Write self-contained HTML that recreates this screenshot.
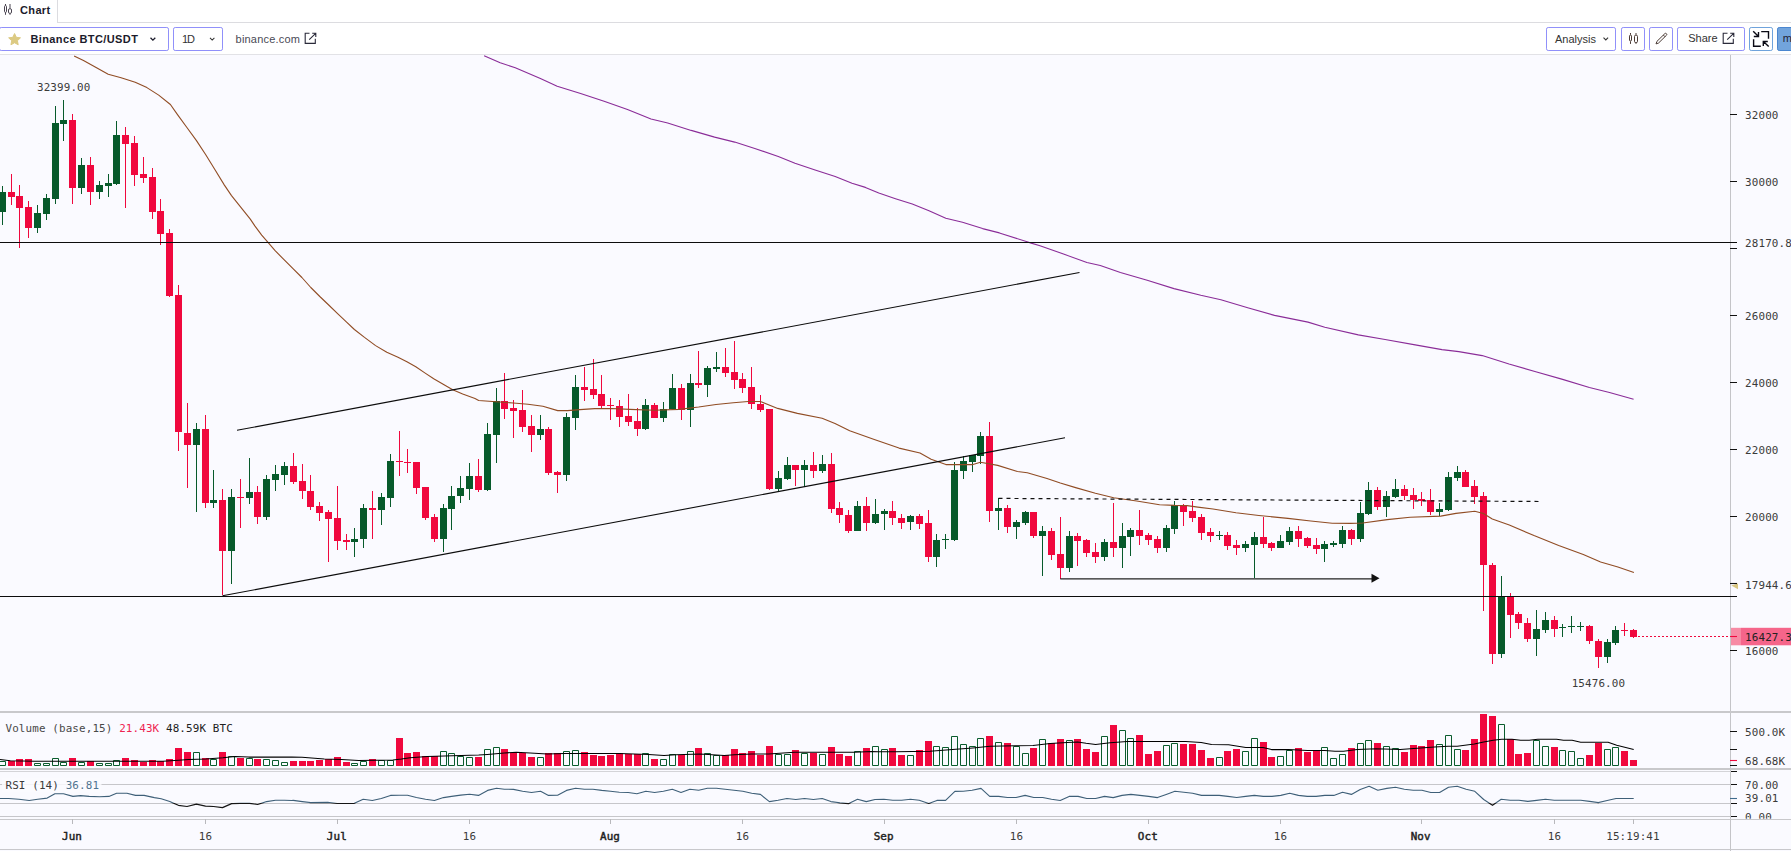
<!DOCTYPE html>
<html><head><meta charset="utf-8"><title>Chart</title>
<style>
html,body{margin:0;padding:0;background:#fff;}
body{width:1791px;height:851px;overflow:hidden;position:relative;font-family:"Liberation Sans",sans-serif;color:#1b1b2b;}
.tabbar{position:absolute;left:0;top:0;width:1791px;height:22px;border-bottom:1px solid #dcdce0;box-sizing:content-box;}
.tab{position:absolute;left:0;top:0;width:57px;height:23px;background:#fff;border-right:1px solid #dcdce0;}
.tab span{position:absolute;left:20.1px;top:3.8px;font-size:11px;font-weight:bold;line-height:13px;letter-spacing:0.32px;}
.toolbar{position:absolute;left:0;top:23px;width:1791px;height:31px;border-bottom:1px solid #e2e2e6;background:#fff;}
.btn{position:absolute;top:27px;height:22px;border:1px solid #9090fa;border-radius:2.2px;box-sizing:content-box;background:#fff;font-size:11px;line-height:21px;white-space:nowrap;}
.btn span{position:absolute;top:1px;}
svg{position:absolute;left:0;top:0;}
#chart text{font-family:"DejaVu Sans Mono","Liberation Mono",monospace;letter-spacing:0.13px;}
</style></head><body>
<div class="tabbar"></div>
<div class="tab">
<svg width="20" height="22" viewBox="0 0 20 22"><g fill="none" stroke="#4a4450" stroke-width="1"><path d="M5.500 4v1.600M5.500 12.400v2.400M10 4v4.700M10 13.400v1.400"/><rect x="4.500" y="5.600" width="2" height="6.800" rx="1"/><rect x="8.500" y="8.700" width="3" height="4.700" rx="1.300"/></g></svg>
<span>Chart</span></div>
<div class="toolbar"></div>
<div class="btn" style="left:-1px;width:168px;"><span style="left:30.4px;top:0.9px;font-weight:bold;letter-spacing:0.4px;">Binance BTC/USDT</span></div>
<div class="btn" style="left:173px;width:48px;"><span style="left:7.9px;top:0.9px;color:#333;letter-spacing:-1.1px;">1D</span></div>
<div style="position:absolute;left:235.6px;top:29.1px;letter-spacing:0.19px;font-size:11px;line-height:21px;color:#4a4a55;">binance.com</div>
<div class="btn" style="left:1546px;width:68px;"><span style="left:8px;color:#333;">Analysis</span></div>
<div class="btn" style="left:1621px;width:22px;"></div>
<div class="btn" style="left:1649px;width:22px;"></div>
<div class="btn" style="left:1677px;width:66px;"><span style="left:10.2px;top:0.15px;color:#333;">Share</span></div>
<div class="btn" style="left:1749px;width:22px;border-color:#6fa3dc;"></div>
<div class="btn" style="left:1777px;width:20px;border-color:#4a86d0;background:#72a4dc;"><span style="left:4.8px;top:0;color:#223;">m</span></div>
<svg id="icons" width="1791" height="55" viewBox="0 0 1791 55">
<path d="M14.57 33.56L16.33 37.33L20.47 37.84L17.42 40.69L18.21 44.78L14.57 42.76L10.93 44.78L11.72 40.69L8.67 37.84L12.81 37.33z" fill="#dcca82" stroke="#dcca82" stroke-width="1" stroke-linejoin="round"/>
<path d="M150.500 37.700l2.400 2.400 2.400-2.400" fill="none" stroke="#1b1b2b" stroke-width="1.300"/>
<path d="M210 37.8l2.2 2.2 2.2-2.2" fill="none" stroke="#333" stroke-width="1.05"/>
<path d="M1603.5 37.600l2.300 2.300 2.300-2.300" fill="none" stroke="#333" stroke-width="1.050"/>
<g fill="none" stroke="#2a2a3a" stroke-width="1.1"><path d="M309.500 33.300H305.200V43.400H315.300V38.800M309.200 39.700L315.700 33.300M312.200 33.300H315.800V36.900"/>
<path d="M1727.500 33.300H1723.200V43.400H1733.300V38.800M1727.200 39.700L1733.700 33.300M1730.200 33.300H1733.800V36.900"/></g>
<g fill="none" stroke="#4a3a34" stroke-width="1"><path d="M1630.500 33v1.700M1630.500 41.400v2.500M1636 33v1.700M1636 43.100v0.800"/><rect x="1629.500" y="35.100" width="2" height="5.900" rx="1"/><rect x="1634.500" y="35.100" width="3" height="7.600" rx="1.400"/></g>
<g fill="none" stroke="#4a3a34" stroke-width="1" stroke-linejoin="round"><path d="M1656 43.900L1658.520 43.060L1666.400 35.330A1.150 1.150 0 0 0 1664.800 33.670L1656.920 41.400zM1664.960 36.720L1663.360 35.060"/></g>
<g fill="none" stroke="#0a0a14" stroke-width="1.400"><path d="M1753.200 31.300L1758.300 36.300M1758.500 32V36.500H1753.800M1761.200 31.600H1768.500V38.800M1753.600 39.200V46.300H1760.800M1768.700 46.600L1763.400 41.600M1763.300 46V41.500H1767.800"/></g>
</svg>
<svg id="chart" width="1791" height="851" viewBox="0 0 1791 851" style="top:0">
<rect x="0" y="55" width="1791" height="796" fill="#fafaff"/>
<path d="M1730.5 55V851" stroke="#c4c4c8" stroke-width="1"/>
<path d="M0 712H1791M0 769H1791" stroke="#c8c8cb" stroke-width="2"/>
<path d="M0 819.5H1791" stroke="#c8c8cb" stroke-width="1"/>
<path d="M0 849.5H1791" stroke="#c8c8cc" stroke-width="1"/>
<path d="M1730 114.5h7M1730 181.5h7M1730 248.5h7M1730 315.5h7M1730 382.5h7M1730 449.5h7M1730 516.5h7M1730 583.5h7M1730 650.5h7M1730 731.5h7M1730 749.5h7M1730 765.5h7M1730 771.5h7M1730 784.5h7M1730 803.5h7M1730 816.5h7" stroke="#111" stroke-width="1.1"/>
<path d="M1730 760.5h7" stroke="#ee0a3e" stroke-width="1.1"/>
<path d="M1730 798.5h7" stroke="#3e6a8c" stroke-width="1.1"/>
<path d="M72.5 819v5M205.5 819v5M337.5 819v5M469.5 819v5M610.5 819v5M742.5 819v5M884.5 819v5M1016.5 819v5M1148.5 819v5M1280.5 819v5M1421.5 819v5M1554.5 819v5M1633.5 819v5" stroke="#b8b8bc" stroke-width="1"/>
<path d="M0 771.5H1731" stroke="#d4d4d8" stroke-width="1"/>
<path d="M0 784.5H1731M0 803.5H1731M0 816.5H1731" stroke="#c6c6ca" stroke-width="1"/>
<rect x="2" y="778" width="99.5" height="14" fill="#fafaff" fill-opacity="0.85"/>
<clipPath id="ra"><rect x="0" y="770" width="1731" height="33"/></clipPath><clipPath id="rb"><rect x="0" y="803" width="1731" height="16"/></clipPath>
<polyline points="0,798.5 8.6,798.5 18.9,799.3 29.2,800.5 37.7,799.3 47.2,798.1 54.9,793.7 63.5,793.7 72.9,796.4 80.6,795.6 89.2,796.4 99.5,796.8 108.9,796.4 116.6,793.3 126.9,793.3 135.5,795.4 144.1,795.4 154.4,797.6 161.2,798.8 169.8,801.6 178.4,805.3 187,806.5 196.4,804.1 205.5,806.2 213.6,806.5 222.5,807.6 231.6,803.6 240.1,803.3 249.6,803.3 257.6,804.5 266.6,801.6 275.5,800.2 284.4,800.2 291.6,800.5 293.3,800.4 302.3,801.6 310.6,802.6 327.7,802.4 337.2,803.5 346.3,803.5 354.3,803.3 363.2,799.2 372.3,800.5 381.3,798.5 390.5,795.4 399.3,795.2 407.5,795.2 416.4,797.5 425.5,799.3 434.4,800.5 443.5,797.6 451.6,796.4 460.7,795.1 469.6,794.2 478.5,795.4 487.6,790.4 496.5,788.2 504.4,789.2 513.5,789.4 522.6,791.3 531.5,792.5 540.6,791.3 548.5,795.4 557.6,795.2 566.5,790.4 575.6,788.2 584.5,789.2 592.9,789.2 601.8,790.4 610.5,791.3 619.3,792.3 628.2,792.5 636.9,793.7 645.9,791.3 654.6,792.5 663.4,791.3 672.3,789.2 681,792.5 689.9,789.2 698.7,790.2 707.4,788.2 716.4,788.2 725.1,789.2 734,790.2 742.8,791.3 751.7,793.3 760.4,794.4 769.4,801.6 778.1,800.2 786.9,798.5 795.8,799.5 804.5,798.5 813.4,799.5 822.2,798.5 830.9,801.6 839.9,802.8 848.6,803.6 857.5,799.3 866.3,801.6 875,799.5 883.9,799.3 892.8,800.2 901.6,800.2 910.5,799.2 919.2,800.2 928.8,803.5 936.9,800.4 945.6,800.4 954.9,791.4 963.3,791.3 972.1,790.2 981,788.4 989.7,796.4 998.6,796.4 1007.4,797.5 1016.1,797.5 1025.1,795.4 1033.8,797.5 1042.7,797.5 1051.5,799.3 1060.2,800.5 1069.1,796.4 1078.1,796.4 1086.8,798.5 1095.6,798.5 1104.5,796.4 1113.2,797.6 1122.1,795.4 1130.9,794.4 1139.8,795.4 1148.6,796.4 1157.5,797.6 1166.2,794.4 1174.9,791.3 1183.8,792.3 1192.6,793.3 1201.5,795.4 1210.3,795.4 1219.2,795.4 1227.9,796.4 1236.7,797.5 1245.6,796.4 1254.3,795.4 1263.3,796.4 1272,796.4 1280.8,795.4 1289.7,793.3 1298.4,795.4 1307.3,796.4 1316.1,796.4 1324.8,795.4 1333.8,795.4 1342.5,792.3 1351.4,794.4 1360.2,789.4 1369.1,786.3 1377.8,790.2 1386.8,788.4 1395.5,787.3 1404.3,789.2 1413.2,790.2 1421.9,790.2 1430.8,792.5 1439.6,792.5 1448.5,787.3 1457.2,786.3 1466.1,789.2 1474.8,791.3 1483.7,799.5 1492.5,805.3 1501.2,799.2 1510.2,800.2 1518.9,800.2 1527.8,801.4 1536.6,800.4 1545.5,799.2 1554.2,800.2 1563.2,800.2 1571.9,800.2 1580.7,800.2 1589.6,801.4 1598.3,802.6 1607.2,800.5 1616,798.5 1624.9,798.5 1633.7,798.5" fill="none" stroke="#3e5f78" stroke-width="1.1" stroke-linejoin="round" clip-path="url(#ra)"/>
<polyline points="0,798.5 8.6,798.5 18.9,799.3 29.2,800.5 37.7,799.3 47.2,798.1 54.9,793.7 63.5,793.7 72.9,796.4 80.6,795.6 89.2,796.4 99.5,796.8 108.9,796.4 116.6,793.3 126.9,793.3 135.5,795.4 144.1,795.4 154.4,797.6 161.2,798.8 169.8,801.6 178.4,805.3 187,806.5 196.4,804.1 205.5,806.2 213.6,806.5 222.5,807.6 231.6,803.6 240.1,803.3 249.6,803.3 257.6,804.5 266.6,801.6 275.5,800.2 284.4,800.2 291.6,800.5 293.3,800.4 302.3,801.6 310.6,802.6 327.7,802.4 337.2,803.5 346.3,803.5 354.3,803.3 363.2,799.2 372.3,800.5 381.3,798.5 390.5,795.4 399.3,795.2 407.5,795.2 416.4,797.5 425.5,799.3 434.4,800.5 443.5,797.6 451.6,796.4 460.7,795.1 469.6,794.2 478.5,795.4 487.6,790.4 496.5,788.2 504.4,789.2 513.5,789.4 522.6,791.3 531.5,792.5 540.6,791.3 548.5,795.4 557.6,795.2 566.5,790.4 575.6,788.2 584.5,789.2 592.9,789.2 601.8,790.4 610.5,791.3 619.3,792.3 628.2,792.5 636.9,793.7 645.9,791.3 654.6,792.5 663.4,791.3 672.3,789.2 681,792.5 689.9,789.2 698.7,790.2 707.4,788.2 716.4,788.2 725.1,789.2 734,790.2 742.8,791.3 751.7,793.3 760.4,794.4 769.4,801.6 778.1,800.2 786.9,798.5 795.8,799.5 804.5,798.5 813.4,799.5 822.2,798.5 830.9,801.6 839.9,802.8 848.6,803.6 857.5,799.3 866.3,801.6 875,799.5 883.9,799.3 892.8,800.2 901.6,800.2 910.5,799.2 919.2,800.2 928.8,803.5 936.9,800.4 945.6,800.4 954.9,791.4 963.3,791.3 972.1,790.2 981,788.4 989.7,796.4 998.6,796.4 1007.4,797.5 1016.1,797.5 1025.1,795.4 1033.8,797.5 1042.7,797.5 1051.5,799.3 1060.2,800.5 1069.1,796.4 1078.1,796.4 1086.8,798.5 1095.6,798.5 1104.5,796.4 1113.2,797.6 1122.1,795.4 1130.9,794.4 1139.8,795.4 1148.6,796.4 1157.5,797.6 1166.2,794.4 1174.9,791.3 1183.8,792.3 1192.6,793.3 1201.5,795.4 1210.3,795.4 1219.2,795.4 1227.9,796.4 1236.7,797.5 1245.6,796.4 1254.3,795.4 1263.3,796.4 1272,796.4 1280.8,795.4 1289.7,793.3 1298.4,795.4 1307.3,796.4 1316.1,796.4 1324.8,795.4 1333.8,795.4 1342.5,792.3 1351.4,794.4 1360.2,789.4 1369.1,786.3 1377.8,790.2 1386.8,788.4 1395.5,787.3 1404.3,789.2 1413.2,790.2 1421.9,790.2 1430.8,792.5 1439.6,792.5 1448.5,787.3 1457.2,786.3 1466.1,789.2 1474.8,791.3 1483.7,799.5 1492.5,805.3 1501.2,799.2 1510.2,800.2 1518.9,800.2 1527.8,801.4 1536.6,800.4 1545.5,799.2 1554.2,800.2 1563.2,800.2 1571.9,800.2 1580.7,800.2 1589.6,801.4 1598.3,802.6 1607.2,800.5 1616,798.5 1624.9,798.5 1633.7,798.5" fill="none" stroke="#151515" stroke-width="1.2" stroke-linejoin="round" clip-path="url(#rb)"/>
<path d="M8 761h7V766h-7zM16 759h7V766h-7zM25 759h7V766h-7zM69 758h7V766h-7zM87 761h7V766h-7zM122 758h7V766h-7zM131 760h7V766h-7zM140 762h7V766h-7zM149 760h7V766h-7zM157 761h7V766h-7zM166 759h7V766h-7zM175 748h7V766h-7zM184 752h7V766h-7zM202 758h7V766h-7zM219 752h7V766h-7zM237 758h7V766h-7zM254 759h7V766h-7zM290 761h7V766h-7zM299 761h7V766h-7zM307 761h7V766h-7zM316 760h7V766h-7zM325 759h7V766h-7zM334 757h7V766h-7zM343 762h7V766h-7zM369 759h7V766h-7zM396 738h7V766h-7zM404 753h7V766h-7zM413 752h7V766h-7zM422 756h7V766h-7zM431 756h7V766h-7zM475 757h7V766h-7zM501 749h7V766h-7zM510 753h7V766h-7zM519 753h7V766h-7zM528 757h7V766h-7zM545 753h7V766h-7zM554 753h7V766h-7zM581 752h7V766h-7zM590 755h7V766h-7zM598 756h7V766h-7zM607 755h7V766h-7zM616 753h7V766h-7zM625 754h7V766h-7zM634 754h7V766h-7zM651 759h7V766h-7zM678 755h7V766h-7zM695 748h7V766h-7zM722 755h7V766h-7zM731 749h7V766h-7zM739 753h7V766h-7zM748 751h7V766h-7zM757 755h7V766h-7zM766 746h7V766h-7zM792 750h7V766h-7zM810 753h7V766h-7zM828 747h7V766h-7zM836 754h7V766h-7zM845 756h7V766h-7zM863 748h7V766h-7zM889 748h7V766h-7zM898 755h7V766h-7zM916 750h7V766h-7zM925 741h7V766h-7zM986 736h7V766h-7zM1004 743h7V766h-7zM1030 748h7V766h-7zM1048 743h7V766h-7zM1057 739h7V766h-7zM1074 739h7V766h-7zM1083 749h7V766h-7zM1092 752h7V766h-7zM1110 725h7V766h-7zM1136 735h7V766h-7zM1145 754h7V766h-7zM1154 751h7V766h-7zM1180 744h7V766h-7zM1189 744h7V766h-7zM1198 750h7V766h-7zM1207 758h7V766h-7zM1224 751h7V766h-7zM1233 749h7V766h-7zM1260 742h7V766h-7zM1268 757h7V766h-7zM1295 748h7V766h-7zM1304 752h7V766h-7zM1313 750h7V766h-7zM1348 748h7V766h-7zM1374 743h7V766h-7zM1401 752h7V766h-7zM1410 745h7V766h-7zM1418 746h7V766h-7zM1427 740h7V766h-7zM1462 750h7V766h-7zM1471 739h7V766h-7zM1480 714h7V766h-7zM1489 716h7V766h-7zM1507 739h7V766h-7zM1515 754h7V766h-7zM1524 753h7V766h-7zM1551 747h7V766h-7zM1586 755h7V766h-7zM1595 743h7V766h-7zM1621 751h7V766h-7zM1630 760h7V766h-7z" fill="#f0083e"/>
<path d="M-0.5 761.5h6V765.5h-6zM34.5 763.5h6V765.5h-6zM43.5 763.5h6V765.5h-6zM52.5 758.5h6V765.5h-6zM60.5 762.5h6V765.5h-6zM78.5 762.5h6V765.5h-6zM96.5 763.5h6V765.5h-6zM105.5 763.5h6V765.5h-6zM113.5 760.5h6V765.5h-6zM193.5 752.5h6V765.5h-6zM210.5 759.5h6V765.5h-6zM228.5 756.5h6V765.5h-6zM246.5 758.5h6V765.5h-6zM263.5 759.5h6V765.5h-6zM272.5 760.5h6V765.5h-6zM281.5 762.5h6V765.5h-6zM351.5 763.5h6V765.5h-6zM360.5 761.5h6V765.5h-6zM378.5 760.5h6V765.5h-6zM387.5 760.5h6V765.5h-6zM440.5 751.5h6V765.5h-6zM448.5 753.5h6V765.5h-6zM457.5 756.5h6V765.5h-6zM466.5 757.5h6V765.5h-6zM484.5 749.5h6V765.5h-6zM493.5 747.5h6V765.5h-6zM537.5 757.5h6V765.5h-6zM563.5 751.5h6V765.5h-6zM572.5 750.5h6V765.5h-6zM642.5 753.5h6V765.5h-6zM660.5 759.5h6V765.5h-6zM669.5 754.5h6V765.5h-6zM687.5 751.5h6V765.5h-6zM704.5 753.5h6V765.5h-6zM713.5 755.5h6V765.5h-6zM775.5 754.5h6V765.5h-6zM784.5 754.5h6V765.5h-6zM801.5 753.5h6V765.5h-6zM819.5 754.5h6V765.5h-6zM854.5 751.5h6V765.5h-6zM872.5 746.5h6V765.5h-6zM881.5 749.5h6V765.5h-6zM907.5 755.5h6V765.5h-6zM933.5 746.5h6V765.5h-6zM942.5 747.5h6V765.5h-6zM951.5 736.5h6V765.5h-6zM960.5 744.5h6V765.5h-6zM969.5 746.5h6V765.5h-6zM977.5 738.5h6V765.5h-6zM995.5 742.5h6V765.5h-6zM1013.5 746.5h6V765.5h-6zM1022.5 753.5h6V765.5h-6zM1039.5 739.5h6V765.5h-6zM1066.5 740.5h6V765.5h-6zM1101.5 736.5h6V765.5h-6zM1119.5 730.5h6V765.5h-6zM1127.5 738.5h6V765.5h-6zM1163.5 745.5h6V765.5h-6zM1171.5 743.5h6V765.5h-6zM1216.5 757.5h6V765.5h-6zM1242.5 751.5h6V765.5h-6zM1251.5 738.5h6V765.5h-6zM1277.5 756.5h6V765.5h-6zM1286.5 750.5h6V765.5h-6zM1321.5 747.5h6V765.5h-6zM1330.5 758.5h6V765.5h-6zM1339.5 754.5h6V765.5h-6zM1357.5 743.5h6V765.5h-6zM1365.5 740.5h6V765.5h-6zM1383.5 746.5h6V765.5h-6zM1392.5 748.5h6V765.5h-6zM1436.5 744.5h6V765.5h-6zM1445.5 735.5h6V765.5h-6zM1454.5 749.5h6V765.5h-6zM1498.5 724.5h6V765.5h-6zM1533.5 740.5h6V765.5h-6zM1542.5 746.5h6V765.5h-6zM1559.5 750.5h6V765.5h-6zM1568.5 751.5h6V765.5h-6zM1577.5 758.5h6V765.5h-6zM1604.5 749.5h6V765.5h-6zM1612.5 747.5h6V765.5h-6z" fill="none" stroke="#0a5c2d" stroke-width="1"/>
<polyline points="0,759.5 10.3,760.7 34.3,761.3 68.6,761.3 102.9,761.3 137.2,761.3 163,761.3 178.4,760.2 188.7,759.4 205.8,759 223,757.8 235,756.5 248.7,757.1 274.4,757.1 291.6,757.1 302,757.3 324.3,759 341.5,759.5 358.6,760.4 375.8,760.2 392.9,759.9 401.5,759 410.1,757.8 427.2,756.5 444.4,756.1 461.5,755.6 478.7,755.1 487.3,754.4 504.4,753 516.4,752.2 530.1,753 547.3,753.9 564.4,753.4 581.6,753.4 590.3,753.5 619.5,753.5 648.6,754.4 664,755.6 676.1,754.7 700.1,753.9 724.1,755.4 734.4,754.7 751.5,753.9 768.7,753.9 794.4,752.2 820.1,752.2 854.4,752.2 871.6,751.5 878.6,751.7 895.7,751.7 930,751.3 955.8,749.3 972.9,747.9 990.1,746.2 1015.8,745.7 1033,745.5 1050.1,743.6 1067.3,742.4 1077.5,741.9 1086.1,743.3 1095.6,744.5 1110.1,742.7 1127.3,741.5 1144.4,741.4 1161.6,741.5 1168.6,741.5 1185.7,741.4 1201.2,742.4 1211.5,744.5 1228.6,744.8 1245.8,747.4 1262.9,747.4 1271.5,749.6 1288.6,749.6 1307.5,750.5 1324.7,750.5 1335,751.3 1343.5,751.3 1357.3,749.6 1376.1,748.7 1400.1,749.6 1417.3,748.2 1434.4,747 1448.2,746.2 1457.2,746.2 1474.3,744.1 1483.7,741.9 1493.2,740.2 1501.7,739.3 1512,739.3 1520.6,740.2 1529.2,740.2 1537.8,739.3 1556.6,739.3 1563.5,740.2 1572.1,740.3 1580.7,742.2 1608.1,742.2 1616.7,745.3 1633.7,749.4" fill="none" stroke="#000" stroke-width="1.05" stroke-linejoin="round" />
<path d="M11.5 174V205M19.5 185V248M28.5 201V238M72.5 114V204M90.5 157V205M125.5 127V208M134.5 136V186M143.5 157V183M152.5 168V219M160.5 199V245M169.5 229V297M178.5 285V451M187.5 403V488M205.5 415V508M222.5 489V595M240.5 479V528M257.5 486V524M293.5 453V484M302.5 464V499M310.5 475V510M319.5 502V521M328.5 510V562M337.5 486V550M346.5 534V550M372.5 491V539M399.5 431V476M407.5 449V473M416.5 462V494M425.5 487V520M434.5 514V542M478.5 459V492M504.5 373V419M513.5 400V438M522.5 390V432M531.5 415V452M548.5 427V475M557.5 471V493M584.5 367V401M593.5 359V399M601.5 375V408M610.5 398V420M619.5 400V427M628.5 394V426M637.5 408V436M654.5 403V418M681.5 384V420M698.5 351V388M725.5 348V377M734.5 341V389M742.5 373V393M751.5 367V409M760.5 395V412M769.5 409V490M795.5 465V486M813.5 452V478M831.5 453V513M839.5 502V523M848.5 510V533M866.5 497V531M892.5 501V525M901.5 514V529M919.5 514V529M928.5 510V562M989.5 422V522M1007.5 505V533M1033.5 512V538M1051.5 528V560M1060.5 517V579M1077.5 533V566M1086.5 539V557M1095.5 543V563M1113.5 503V557M1139.5 510V545M1148.5 533V545M1157.5 536V553M1183.5 504V526M1192.5 501V522M1201.5 514V540M1210.5 528V542M1227.5 532V550M1236.5 540V555M1263.5 517V548M1271.5 542V551M1298.5 526V547M1307.5 537V548M1316.5 538V554M1351.5 529V545M1377.5 487V510M1404.5 485V500M1413.5 488V509M1421.5 492V506M1430.5 489V515M1465.5 470V487M1474.5 480V504M1483.5 492V611M1492.5 563V664M1510.5 593V638M1518.5 612V629M1527.5 618V642M1554.5 616V637M1589.5 625V644M1598.5 639V668M1624.5 623V636M1633.5 629V638" stroke="#f0083e" stroke-width="1" fill="none"/>
<path d="M8 192h7V197h-7zM16 196h7V208h-7zM25 207h7V228h-7zM69 120h7V188h-7zM87 165h7V192h-7zM122 135h7V144h-7zM131 143h7V175h-7zM140 174h7V178h-7zM149 177h7V212h-7zM157 211h7V234h-7zM166 233h7V296h-7zM175 295h7V432h-7zM184 433h7V445h-7zM202 429h7V503h-7zM219 500h7V551h-7zM237 497h7V498h-7zM254 492h7V517h-7zM290 466h7V482h-7zM299 481h7V491h-7zM307 491h7V507h-7zM316 506h7V513h-7zM325 512h7V519h-7zM334 518h7V541h-7zM343 540h7V542h-7zM369 508h7V510h-7zM396 461h7V462h-7zM404 462h7V463h-7zM413 462h7V488h-7zM422 487h7V518h-7zM431 517h7V539h-7zM475 476h7V490h-7zM501 401h7V409h-7zM510 408h7V411h-7zM519 410h7V427h-7zM528 426h7V435h-7zM545 429h7V473h-7zM554 472h7V475h-7zM581 387h7V390h-7zM590 389h7V395h-7zM598 394h7V406h-7zM607 405h7V406h-7zM616 406h7V417h-7zM625 416h7V422h-7zM634 421h7V429h-7zM651 405h7V418h-7zM678 388h7V410h-7zM695 383h7V385h-7zM722 367h7V373h-7zM731 372h7V380h-7zM739 379h7V388h-7zM748 387h7V404h-7zM757 404h7V410h-7zM766 409h7V489h-7zM792 465h7V470h-7zM810 465h7V471h-7zM828 464h7V509h-7zM836 508h7V515h-7zM845 515h7V531h-7zM863 506h7V523h-7zM889 511h7V518h-7zM898 518h7V523h-7zM916 516h7V524h-7zM925 523h7V557h-7zM986 436h7V511h-7zM1004 508h7V527h-7zM1030 512h7V536h-7zM1048 531h7V555h-7zM1057 554h7V568h-7zM1074 536h7V541h-7zM1083 540h7V553h-7zM1092 552h7V557h-7zM1110 542h7V548h-7zM1136 530h7V536h-7zM1145 535h7V540h-7zM1154 539h7V548h-7zM1180 505h7V512h-7zM1189 511h7V518h-7zM1198 517h7V533h-7zM1207 532h7V536h-7zM1224 535h7V546h-7zM1233 545h7V548h-7zM1260 537h7V544h-7zM1268 543h7V548h-7zM1295 531h7V539h-7zM1304 538h7V546h-7zM1313 545h7V549h-7zM1348 530h7V539h-7zM1374 490h7V507h-7zM1401 489h7V496h-7zM1410 495h7V500h-7zM1418 499h7V501h-7zM1427 500h7V512h-7zM1462 472h7V487h-7zM1471 486h7V497h-7zM1480 496h7V565h-7zM1489 565h7V654h-7zM1507 597h7V615h-7zM1515 614h7V623h-7zM1524 623h7V639h-7zM1551 620h7V629h-7zM1586 626h7V641h-7zM1595 641h7V657h-7zM1621 630h7V631h-7zM1630 630h7V637h-7z" fill="#f0083e"/>
<path d="M2.5 186V225M37.5 205V233M46.5 194V220M55.5 106V204M63.5 100V141M81.5 158V194M99.5 181V199M108.5 174V197M116.5 121V185M196.5 423V512M213.5 470V508M231.5 489V584M249.5 458V504M266.5 475V520M275.5 465V491M284.5 462V485M354.5 528V557M363.5 504V548M381.5 493V525M390.5 454V507M443.5 504V552M451.5 486V530M460.5 476V503M469.5 463V500M487.5 423V491M496.5 388V463M540.5 415V440M566.5 413V481M575.5 375V430M645.5 399V430M663.5 402V422M672.5 374V410M690.5 374V427M707.5 366V397M716.5 352V372M778.5 471V491M787.5 457V480M804.5 460V487M822.5 455V473M857.5 501V531M875.5 499V524M884.5 509V530M910.5 515V530M936.5 534V567M945.5 534V549M954.5 462V541M963.5 456V479M972.5 455V472M980.5 432V464M998.5 498V530M1016.5 520V539M1025.5 511V525M1042.5 526V576M1069.5 531V572M1104.5 539V561M1122.5 523V568M1130.5 528V556M1166.5 525V552M1174.5 501V534M1219.5 531V540M1245.5 541V552M1254.5 532V578M1280.5 535V548M1289.5 527V545M1324.5 541V562M1333.5 541V547M1342.5 526V548M1360.5 502V542M1368.5 482V515M1386.5 491V517M1395.5 479V498M1439.5 503V516M1448.5 472V511M1457.5 466V481M1501.5 576V658M1536.5 610V656M1545.5 612V633M1562.5 624V637M1571.5 616V633M1580.5 622V631M1607.5 639V663M1615.5 626V645" stroke="#075a2b" stroke-width="1" fill="none"/>
<path d="M-1 192h7V212h-7zM34 213h7V228h-7zM43 198h7V214h-7zM52 123h7V199h-7zM60 120h7V124h-7zM78 165h7V188h-7zM96 185h7V192h-7zM105 183h7V186h-7zM113 135h7V184h-7zM193 429h7V445h-7zM210 500h7V503h-7zM228 497h7V551h-7zM246 492h7V498h-7zM263 479h7V517h-7zM272 474h7V480h-7zM281 466h7V475h-7zM351 539h7V542h-7zM360 508h7V539h-7zM378 497h7V510h-7zM387 461h7V498h-7zM440 508h7V539h-7zM448 496h7V509h-7zM457 488h7V496h-7zM466 476h7V489h-7zM484 434h7V490h-7zM493 401h7V435h-7zM537 429h7V435h-7zM563 417h7V475h-7zM572 387h7V418h-7zM642 405h7V429h-7zM660 409h7V418h-7zM669 388h7V409h-7zM687 383h7V410h-7zM704 368h7V385h-7zM713 367h7V369h-7zM775 478h7V489h-7zM784 465h7V479h-7zM801 465h7V470h-7zM819 464h7V471h-7zM854 506h7V531h-7zM872 514h7V523h-7zM881 511h7V514h-7zM907 516h7V522h-7zM933 540h7V557h-7zM942 539h7V540h-7zM951 470h7V540h-7zM960 461h7V471h-7zM969 455h7V462h-7zM977 436h7V456h-7zM995 508h7V511h-7zM1013 522h7V527h-7zM1022 512h7V523h-7zM1039 531h7V536h-7zM1066 536h7V568h-7zM1101 542h7V557h-7zM1119 536h7V548h-7zM1127 530h7V537h-7zM1163 528h7V548h-7zM1171 505h7V529h-7zM1216 535h7V536h-7zM1242 544h7V548h-7zM1251 537h7V545h-7zM1277 541h7V548h-7zM1286 531h7V542h-7zM1321 544h7V549h-7zM1330 543h7V545h-7zM1339 530h7V544h-7zM1357 513h7V539h-7zM1365 490h7V514h-7zM1383 496h7V507h-7zM1392 489h7V497h-7zM1436 509h7V512h-7zM1445 477h7V510h-7zM1454 472h7V478h-7zM1498 597h7V654h-7zM1533 629h7V639h-7zM1542 620h7V630h-7zM1559 627h7V628h-7zM1568 626h7V627h-7zM1577 626h7V627h-7zM1604 642h7V657h-7zM1612 630h7V643h-7z" fill="#075a2b"/>
<polyline points="484.1,55.7 500.2,62.7 515.3,67.8 540.4,78.5 557.2,86.2 580.6,93.6 604.1,101.3 627.5,109.6 651,119 667.7,123 691.2,130.4 714.6,137.1 734.7,142.1 754.8,148.5 778.3,156.5 795,163.2 815.1,169.9 835.2,176.6 852,183.3 865.4,187.4 878.8,193 895.5,198.7 912.3,204.1 929,210.8 945.8,218.2 962.5,222.2 982.6,228.6 999.4,232.9 1029.5,242.6 1040,245.7 1063.5,254.1 1086.9,262.5 1100.3,265.5 1120.4,272.5 1147.2,280.3 1174,288.6 1200.8,295.3 1220.9,299.7 1247.7,307.7 1274.5,315.4 1308,322.1 1324.8,327.2 1358.3,334.9 1385.1,339.5 1415.2,344.9 1442,349.6 1458.8,351.6 1482.2,355.6 1509,364 1535.8,371.7 1562.6,379.4 1589.4,387.5 1609.5,392.5 1633.6,399.2" fill="none" stroke="#8a2c98" stroke-width="1.1" stroke-linejoin="round" />
<polyline points="74.1,55.9 83.5,60.6 95.2,67.1 108.2,74.2 121.1,77.7 135.2,82.2 146.9,87.6 158.7,95.1 170.4,104.5 177.5,114.6 186.9,127.5 196.3,140.4 205.6,154.5 215,169.8 224.4,185.1 231.5,195.6 240.9,207.4 250.3,219.1 255,226.1 261.7,235.1 268,242.4 275.1,250.7 284,259.6 293,268.6 301.9,277.5 310.8,287.5 319.8,296.5 328.7,305 337.6,313.7 346.6,322.2 354.4,329.5 364.5,337.4 375.6,345.6 386.8,352.3 398,357.2 406.9,361.7 415.8,366.8 424.8,372.9 433.7,378.7 444.9,385.2 452.7,389.8 462.7,394.1 475,398.6 478.7,400.5 496,401.7 513.3,403 528,404.2 542.9,406.2 557.7,410.6 567.5,410.6 579.9,409.6 594.7,408.6 612,408.5 629.7,409.4 654.3,410.2 679,409.4 698.7,407 716,404.5 733.3,402.8 748.1,401.5 760.4,401.5 777.7,408.4 797.4,413.4 822.1,418.3 835,423.5 849.7,430.8 874.3,439.5 899,448.1 920,453 931.1,459.2 945.9,464.6 973,464.6 980.4,462.2 997.7,465.4 1017.4,471.5 1027.3,472.8 1047,478.5 1060.3,483 1075.6,487.6 1095.4,493.2 1113.7,497.8 1136.7,501 1159.6,504.8 1174.9,505.4 1187.1,505.6 1197.8,507.1 1213,509 1236,512.8 1258.9,515.5 1287.9,518.4 1310.8,521 1332.2,523.3 1350.5,523.4 1362.8,523 1387.2,519.6 1410.1,517.3 1440.7,516.1 1456,513.4 1474.8,511.3 1483.4,513.5 1492.3,519 1509.3,525 1534,535.6 1558.7,545.5 1583.3,554.6 1600.6,562 1617.9,567 1633.9,572.4" fill="none" stroke="#904c24" stroke-width="1.1" stroke-linejoin="round" />
<path d="M0 242.5H1737M0 596.5H1737" stroke="#0c0c0c" stroke-width="1"/>
<path d="M237 430.3L1079.5 272.5M222.5 595.8L1065 437.8" stroke="#0c0c0c" stroke-width="1.1"/>
<path d="M998.5 498.4L1539 501.5" stroke="#111" stroke-width="1.2" stroke-dasharray="4 4" fill="none"/>
<path d="M1060.3 578.9H1373" stroke="#222" stroke-width="1.25"/><path d="M1371.5 573.8L1379.5 578.3L1371.5 582.8z" fill="#111"/>
<path d="M1638 636.5H1737" stroke="#ee0a3e" stroke-width="1.2" stroke-dasharray="2 2"/>
<text x="1745.1" y="119.1" text-anchor="start" fill="#3a3a3a" font-weight="normal" font-size="10.9">32000</text>
<text x="1745.1" y="186.1" text-anchor="start" fill="#3a3a3a" font-weight="normal" font-size="10.9">30000</text>
<text x="1745.1" y="320.1" text-anchor="start" fill="#3a3a3a" font-weight="normal" font-size="10.9">26000</text>
<text x="1745.1" y="387.1" text-anchor="start" fill="#3a3a3a" font-weight="normal" font-size="10.9">24000</text>
<text x="1745.1" y="454.1" text-anchor="start" fill="#3a3a3a" font-weight="normal" font-size="10.9">22000</text>
<text x="1745.1" y="521.1" text-anchor="start" fill="#3a3a3a" font-weight="normal" font-size="10.9">20000</text>
<text x="1745.1" y="655.1" text-anchor="start" fill="#3a3a3a" font-weight="normal" font-size="10.9">16000</text>
<rect x="1738" y="235" width="53" height="16" fill="#fafaff"/>
<text x="1745.1" y="247" text-anchor="start" fill="#3a3a3a" font-weight="normal" font-size="10.9">28170.8</text>
<rect x="1738" y="577" width="53" height="16" fill="#fafaff"/>
<path d="M1731.3 585.6L1738 583.6V589.2z" fill="#d9c680"/>
<path d="M1730 583.5h7" stroke="#111" stroke-width="1.1"/>
<text x="1745.1" y="588.6" text-anchor="start" fill="#3a3a3a" font-weight="normal" font-size="10.9">17944.6</text>
<rect x="1731" y="627.8" width="10" height="17.5" fill="#f78aa4"/><rect x="1741" y="627.8" width="50" height="17.5" fill="#f5658a"/>
<path d="M1730 636.5h7" stroke="#ee0a3e" stroke-width="1.1"/>
<text x="1745.1" y="640.6" text-anchor="start" fill="#222" font-weight="normal" font-size="10.9">16427.3</text>
<text x="1745.1" y="735.5" text-anchor="start" fill="#3a3a3a" font-weight="normal" font-size="10.9">500.0K</text>
<text x="1745.1" y="764.5" text-anchor="start" fill="#3a3a3a" font-weight="normal" font-size="10.9">68.68K</text>
<text x="1745.1" y="788.5" text-anchor="start" fill="#3a3a3a" font-weight="normal" font-size="10.9">70.00</text>
<text x="1745.1" y="802.3" text-anchor="start" fill="#3a3a3a" font-weight="normal" font-size="10.9">39.01</text>
<clipPath id="c0"><rect x="1738" y="805" width="53" height="13.8"/></clipPath>
<g clip-path="url(#c0)">
<text x="1745.1" y="820.5" text-anchor="start" fill="#3a3a3a" font-weight="normal" font-size="10.9">0.00</text>
</g>
<text x="37" y="90.7" text-anchor="start" fill="#3a3a3a" font-weight="normal" font-size="10.9">32399.00</text>
<text x="1598.4" y="687" text-anchor="middle" fill="#3a3a3a" font-weight="normal" font-size="10.9">15476.00</text>
<text x="5.5" y="732" font-size="10.9" fill="#484848" xml:space="preserve">Volume (base,15) <tspan fill="#ee2450">21.43K</tspan> <tspan fill="#202020">48.59K BTC</tspan></text>
<text x="5.5" y="788.7" font-size="10.9" fill="#3a3a3a" xml:space="preserve">RSI (14) <tspan fill="#4f7390">36.81</tspan></text>
<text x="72" y="839.7" text-anchor="middle" fill="#222" stroke="#222" stroke-width="0.45" font-size="10.9">Jun</text>
<text x="336.8" y="839.7" text-anchor="middle" fill="#222" stroke="#222" stroke-width="0.45" font-size="10.9">Jul</text>
<text x="610" y="839.7" text-anchor="middle" fill="#222" stroke="#222" stroke-width="0.45" font-size="10.9">Aug</text>
<text x="883.7" y="839.7" text-anchor="middle" fill="#222" stroke="#222" stroke-width="0.45" font-size="10.9">Sep</text>
<text x="1147.9" y="839.7" text-anchor="middle" fill="#222" stroke="#222" stroke-width="0.45" font-size="10.9">Oct</text>
<text x="1420.7" y="839.7" text-anchor="middle" fill="#222" stroke="#222" stroke-width="0.45" font-size="10.9">Nov</text>
<text x="205.5" y="839.7" text-anchor="middle" fill="#3a3a3a" font-weight="normal" font-size="10.9">16</text>
<text x="469.5" y="839.7" text-anchor="middle" fill="#3a3a3a" font-weight="normal" font-size="10.9">16</text>
<text x="742.5" y="839.7" text-anchor="middle" fill="#3a3a3a" font-weight="normal" font-size="10.9">16</text>
<text x="1016.5" y="839.7" text-anchor="middle" fill="#3a3a3a" font-weight="normal" font-size="10.9">16</text>
<text x="1280.5" y="839.7" text-anchor="middle" fill="#3a3a3a" font-weight="normal" font-size="10.9">16</text>
<text x="1554.5" y="839.7" text-anchor="middle" fill="#3a3a3a" font-weight="normal" font-size="10.9">16</text>
<text x="1633" y="839.7" text-anchor="middle" fill="#3a3a3a" font-weight="normal" font-size="10.9">15:19:41</text>
</svg>
</body></html>
